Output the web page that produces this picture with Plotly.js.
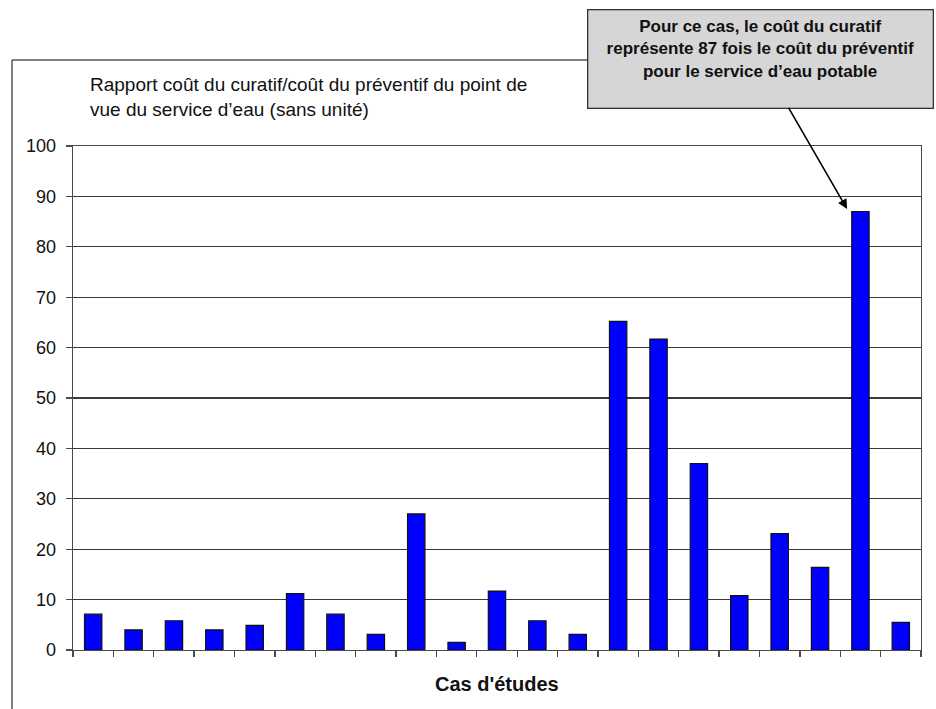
<!DOCTYPE html>
<html>
<head>
<meta charset="utf-8">
<script src="https://cdn.plot.ly/plotly-3.0.1.min.js"></script>
<style>html,body{margin:0;padding:0;background:#fff;}#chart{width:936px;height:709px;}</style>
</head>
<body>
<div id="chart"></div>
<script>
// Data
const cases = ["1","2","3","4","5","6","7","8","9","10","11","12","13","14","15","16","17","18","19","20","21"];
const ratios = [7.1, 4.0, 5.8, 4.0, 4.9, 11.2, 7.1, 3.1, 27.0, 1.5, 11.7, 5.8, 3.1, 65.2, 61.7, 37.0, 10.8, 23.1, 16.4, 87.0, 5.5];
const yTitle = "Rapport coût du curatif/coût du préventif du point de<br>vue du service d’eau (sans unité)";
const xTitle = "Cas d'études";
const calloutText = "Pour ce cas, le coût du curatif<br>représente 87 fois le coût du préventif<br>pour le service d’eau potable";

const FONT = "Liberation Sans, Arial, sans-serif";
const AX = "#4a4a4a";

const trace = {
  type: "bar",
  x: cases,
  y: ratios,
  marker: {color: "#0000FF", line: {color: "#111", width: 1.2}},
  hoverinfo: "x+y"
};

const layout = {
  width: 936, height: 709,
  margin: {l: 73, r: 15, t: 146, b: 59},
  paper_bgcolor: "#fff", plot_bgcolor: "#fff",
  showlegend: false,
  bargap: 0.57,
  font: {family: FONT, color: "#111"},
  xaxis: {
    type: "category",
    range: [-0.5, cases.length - 0.5],
    autorange: false,
    showticklabels: false,
    tickson: "boundaries",
    ticks: "outside", ticklen: 6, tickcolor: AX, tickwidth: 1.3,
    showgrid: false, showline: true, linecolor: AX, linewidth: 1.3, mirror: true,
    zeroline: false
  },
  yaxis: {
    range: [0, 100], autorange: false, dtick: 10, tick0: 0,
    ticks: "outside", ticklen: 6, tickcolor: AX, tickwidth: 1.3,
    ticklabelstandoff: 6,
    tickfont: {family: FONT, size: 18, color: "#111"},
    showgrid: true, gridcolor: "#3a3a3a", gridwidth: 1.1,
    showline: true, linecolor: AX, linewidth: 1.3, mirror: true,
    zeroline: false
  },
  shapes: [
    {type: "line", xref: "paper", yref: "paper", x0: -0.0719, x1: 0.62, y0: 1.1706, y1: 1.1706, line: {color: "#555", width: 1.5}},
    {type: "line", xref: "paper", yref: "paper", x0: -0.0719, x1: -0.0719, y0: 1.1706, y1: -0.2, line: {color: "#555", width: 1.5}}
  ],
  annotations: [
    {xref: "paper", yref: "paper", x: 0.0177, y: 1.0972, xanchor: "left", yanchor: "middle", align: "left",
     showarrow: false, text: yTitle, font: {family: FONT, size: 19, color: "#111"}},
    {xref: "paper", yref: "paper", x: 0.5, y: -0.0675, xanchor: "center", yanchor: "middle",
     showarrow: false, text: "<b>" + xTitle + "</b>", font: {family: FONT, size: 20, color: "#111"}},
    {xref: "x", yref: "y", x: 18.67, y: 87.5, axref: "pixel", ayref: "pixel", ax: -87, ay: -150.5,
     showarrow: true, arrowhead: 2, arrowsize: 1.2, arrowwidth: 1.6, arrowcolor: "#000", standoff: 0,
     text: "<b>" + calloutText + "</b>", font: {family: FONT, size: 17, color: "#111"},
     align: "center", valign: "top", width: 330, height: 83,
     bgcolor: "#d6d6d6", bordercolor: "#333", borderwidth: 1.3, borderpad: 7}
  ]
};

Plotly.newPlot("chart", [trace], layout, {displayModeBar: false, staticPlot: true});
</script>
</body>
</html>
